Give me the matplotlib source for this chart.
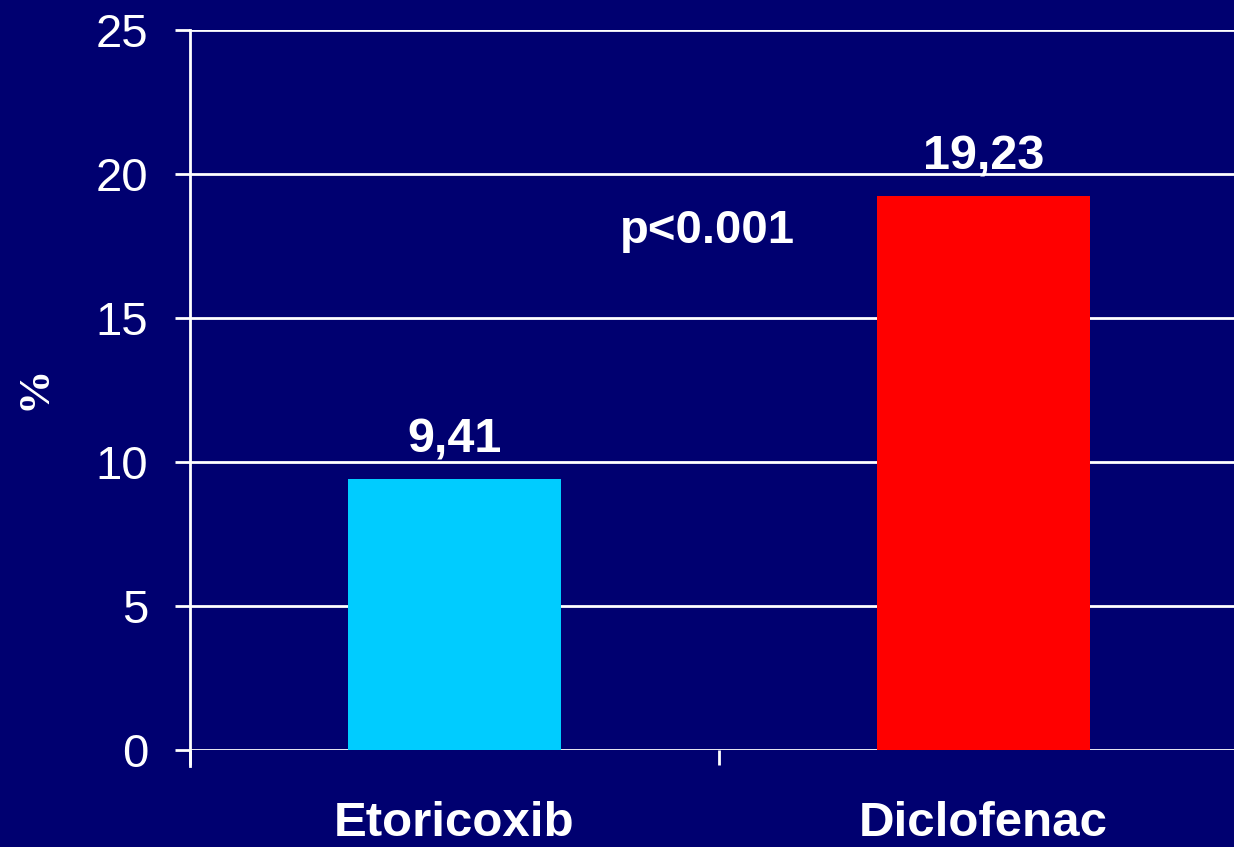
import numpy as np
import matplotlib.pyplot as plt

# data
groups = ['Etoricoxib', 'Diclofenac']
values = [9.41, 19.23]
value_labels = ['9,41', '19,23']
bar_colors = ['#00CCFF', '#FF0000']
y_ticks = [0, 5, 10, 15, 20, 25]

bg = '#000070'

fig = plt.figure(figsize=(12.34, 8.47), dpi=100, facecolor=bg)
# the plot area runs a bit past the right edge, like in the original slide
ax = fig.add_axes([190 / 1234, 97 / 847, 1058 / 1234, 720 / 847])
ax.set_facecolor(bg)

x = np.arange(len(groups))
ax.bar(x, values, width=0.403, color=bar_colors, zorder=3)

ax.set_xlim(-0.5, 1.5)
ax.set_ylim(0, 25)
ax.set_yticks(y_ticks)
ax.yaxis.grid(True, color='white', linewidth=2, zorder=1)
ax.set_axisbelow(True)

for s in ['top', 'right', 'bottom']:
    ax.spines[s].set_visible(False)
ax.spines['left'].set_color('white')
ax.spines['left'].set_linewidth(2)
ax.spines['left'].set_bounds(-0.55, 25)

ax.tick_params(axis='y', colors='white', length=11, width=2, pad=19,
               labelsize=34)
for lab in ax.get_yticklabels():
    lab.set_fontfamily('Liberation Sans')

ax.set_xticks(x)
ax.set_xticklabels(groups, fontsize=35.5, fontweight='bold',
                   fontfamily='Liberation Sans', color='white')
ax.tick_params(axis='x', which='major', length=0, pad=37)
ax.set_xticks([-0.5, 0.5], minor=True)
ax.tick_params(axis='x', which='minor', colors='white', length=11, width=2,
               direction='out')

for xi, v, t in zip(x, values, value_labels):
    ax.annotate(t, (xi, v), xytext=(0, 19), textcoords='offset points',
                ha='center', va='baseline', color='white', fontsize=35,
                fontweight='bold', fontfamily='Liberation Sans')

ax.text(0.479, 17.6, 'p<0.001', ha='center', va='baseline', color='white',
        fontsize=34, fontweight='bold', fontfamily='Liberation Sans')

fig.text(35 / 1234, 1 - 388 / 847, '%', rotation=90, ha='center', va='center',
         color='white', fontsize=32, fontweight='bold',
         fontfamily='Liberation Serif')

fig.savefig('out.png', dpi=100, facecolor=bg)
